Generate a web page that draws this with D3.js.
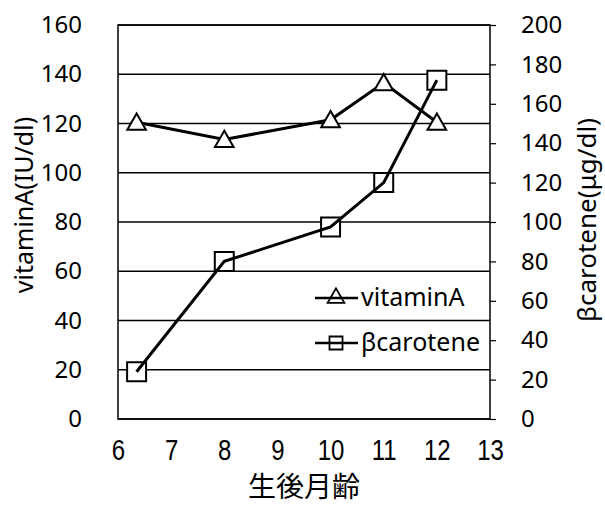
<!DOCTYPE html>
<html>
<head>
<meta charset="utf-8">
<script src="https://cdn.jsdelivr.net/npm/d3@7"></script>
<style>
  body { margin: 0; background: #fff; }
  text { fill: #000; }
</style>
</head>
<body>
<div id="chart"></div>
<script>
(function dualaxis() {

  var width = 605;
  var height = 505;

  // months after birth
  var months = [6.35, 8, 10, 11, 12];
  var vitaminA = [120.5, 113.5, 121.5, 136.5, 120.5];
  var carotene = [24, 80, 97.5, 120, 172];

  var xTicks = [6, 7, 8, 9, 10, 11, 12, 13];
  var leftTicks = [0, 20, 40, 60, 80, 100, 120, 140, 160];
  var rightTicks = [0, 20, 40, 60, 80, 100, 120, 140, 160, 180, 200];

  var margin = { top: 25, bottom: 86, right: 115, left: 118 };

  var svg = d3.select("#chart")
    .append("svg")
    .attr("width", width)
    .attr("height", height);

  var w = width - margin.left - margin.right;
  var h = height - margin.top - margin.bottom;

  var g = svg.append("g")
    .attr("transform", "translate(" + margin.left + "," + margin.top + ")");

  var x = d3.scaleLinear().domain([6, 13]).range([0, w]);
  var yL = d3.scaleLinear().domain([0, 160]).range([h, 0]);
  var yR = d3.scaleLinear().domain([0, 200]).range([h, 0]);

  // gridlines
  g.append("g")
    .selectAll("line")
    .data(leftTicks)
    .enter()
    .append("line")
    .attr("x1", 0)
    .attr("x2", w)
    .attr("y1", d => yL(d))
    .attr("y2", d => yL(d))
    .attr("stroke", "#000")
    .attr("stroke-width", 1.5);

  g.append("rect")
    .attr("width", w)
    .attr("height", h)
    .attr("fill", "none")
    .attr("stroke", "#000")
    .attr("stroke-width", 1.5);

  var tickFont = "'Noto Sans', 'DejaVu Sans', sans-serif";

  // left axis
  var left = g.append("g")
    .call(d3.axisLeft(yL).tickValues(leftTicks).tickSize(0).tickPadding(36));
  left.select(".domain").remove();
  left.selectAll("text")
    .style("font-family", tickFont)
    .style("font-size", "24px");

  // right axis
  var right = g.append("g")
    .attr("transform", "translate(" + w + ",0)")
    .call(d3.axisRight(yR).tickValues(rightTicks).tickSize(6).tickPadding(25));
  right.select(".domain").remove();
  right.selectAll("line").attr("stroke-width", 1.2);
  right.selectAll("text")
    .style("font-family", tickFont)
    .style("font-size", "24px");

  // bottom axis
  var bottom = g.append("g")
    .attr("transform", "translate(0," + h + ")")
    .call(d3.axisBottom(x).tickValues(xTicks).tickFormat(d3.format("d")).tickSize(0).tickPadding(20));
  bottom.select(".domain").remove();
  bottom.selectAll("text")
    .attr("transform", "scale(0.8,1)")
    .style("font-family", "'Liberation Sans', Arial, sans-serif")
    .style("font-size", "30px");

  // axis titles
  svg.append("text")
    .attr("transform", "translate(33," + 205 + ") rotate(-90)")
    .attr("text-anchor", "middle")
    .style("font-family", tickFont)
    .style("font-size", "25px")
    .text("vitaminA(IU/dl)");

  svg.append("text")
    .attr("transform", "translate(596," + 220 + ") rotate(-90)")
    .attr("text-anchor", "middle")
    .style("font-family", tickFont)
    .style("font-size", "26px")
    .text("βcarotene(μg/dl)");

  svg.append("text")
    .attr("x", margin.left + w / 2)
    .attr("y", 497)
    .attr("text-anchor", "middle")
    .style("font-family", "'Noto Sans CJK JP', sans-serif")
    .style("font-size", "28px")
    .text("生後月齢");

  var tri = d3.symbol().type(d3.symbolTriangle).size(150);
  var sq = d3.symbol().type(d3.symbolSquare).size(360);

  var line = d3.line();

  // vitamin A series
  var ptsA = months.map((m, i) => [x(m), yL(vitaminA[i])]);
  g.append("path")
    .attr("d", line(ptsA))
    .attr("fill", "none")
    .attr("stroke", "#000")
    .attr("stroke-width", 3);
  g.selectAll(".tri")
    .data(ptsA)
    .enter()
    .append("path")
    .attr("class", "tri")
    .attr("d", tri)
    .attr("transform", d => "translate(" + d[0] + "," + (d[1] + 2) + ")")
    .attr("fill", "#fff")
    .attr("stroke", "#000")
    .attr("stroke-width", 2);

  // beta carotene series
  var ptsC = months.map((m, i) => [x(m), yR(carotene[i])]);
  g.selectAll(".sq")
    .data(ptsC)
    .enter()
    .append("path")
    .attr("class", "sq")
    .attr("d", sq)
    .attr("transform", d => "translate(" + d[0] + "," + d[1] + ")")
    .attr("fill", "#fff")
    .attr("stroke", "#000")
    .attr("stroke-width", 2);
  g.append("path")
    .attr("d", line(ptsC))
    .attr("fill", "none")
    .attr("stroke", "#000")
    .attr("stroke-width", 3);

  // legend
  var legend = [
    { name: "vitaminA", sym: d3.symbol().type(d3.symbolTriangle).size(120), y: 298 },
    { name: "βcarotene", sym: d3.symbol().type(d3.symbolSquare).size(170), y: 343 }
  ];
  var lg = svg.append("g");
  legend.forEach(function(d) {
    lg.append("line")
      .attr("x1", 315).attr("x2", 358)
      .attr("y1", d.y).attr("y2", d.y)
      .attr("stroke", "#000")
      .attr("stroke-width", 2.5);
    lg.append("path")
      .attr("d", d.sym)
      .attr("transform", "translate(336," + d.y + ")")
      .attr("fill", "none")
      .attr("stroke", "#000")
      .attr("stroke-width", 1.8);
    lg.append("text")
      .attr("x", 361)
      .attr("y", d.y + 8)
      .style("font-family", tickFont)
      .style("font-size", "25px")
      .text(d.name);
  });

})();
</script>
</body>
</html>
